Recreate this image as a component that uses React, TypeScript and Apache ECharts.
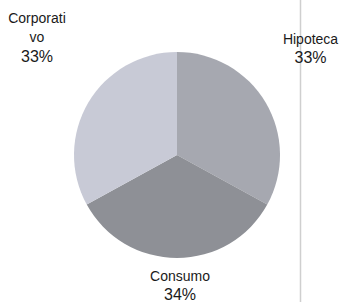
import React, { useEffect, useRef } from "react";
import * as echarts from "echarts";

const categories = ["Hipoteca", "Consumo", "Corporativo"];
const values = [33, 34, 33];
const displayNames = ["Hipoteca", "Consumo", "Corporati\nvo"];
const colors = ["#a6a8b0", "#8e9096", "#c8cad6"];

export default function App() {
  const ref = useRef<HTMLDivElement>(null);
  useEffect(() => {
    document.body.style.margin = "0";
    const chart = echarts.init(ref.current!, null, { renderer: "svg" });
    const labelPos = [
      { x: 310.5, y: 29 },
      { x: 180, y: 266 },
      { x: 37, y: 8.5 },
    ];
    const font = "Liberation Sans, Arial, sans-serif";
    const labelTexts = categories.map((c, i) => ({
      type: "text",
      x: labelPos[i].x,
      y: labelPos[i].y,
      z: 10,
      style: {
        text:
          displayNames[i]
            .split("\n")
            .map((s) => `{n|${s}}`)
            .join("\n") + `\n{v|${values[i]}%}`,
        align: "center",
        verticalAlign: "top",
        rich: {
          n: { fontFamily: font, fontSize: 14, fill: "#1a1a1a", lineHeight: 19, align: "center" },
          v: { fontFamily: font, fontSize: 16, fill: "#1a1a1a", lineHeight: 19, align: "center" },
        },
      },
    }));
    chart.setOption({
      animation: false,
      backgroundColor: "#ffffff",
      graphic: [
        {
          type: "line",
          shape: { x1: 300.5, y1: 0, x2: 300.5, y2: 302 },
          style: { stroke: "#cfcfcf", lineWidth: 1.5 },
          z: 0,
        },
        ...labelTexts,
      ],
      series: [
        {
          type: "pie",
          center: [177, 155],
          radius: 103,
          startAngle: 90,
          clockwise: true,
          data: categories.map((c, i) => ({
            name: c,
            value: values[i],
            itemStyle: { color: colors[i] },
          })),
          itemStyle: { borderWidth: 0 },
          labelLine: { show: false },
          label: { show: false },
          emphasis: { disabled: true },
        },
      ],
    });
    return () => chart.dispose();
  }, []);
  return <div ref={ref} style={{ width: 339, height: 302 }} />;
}
